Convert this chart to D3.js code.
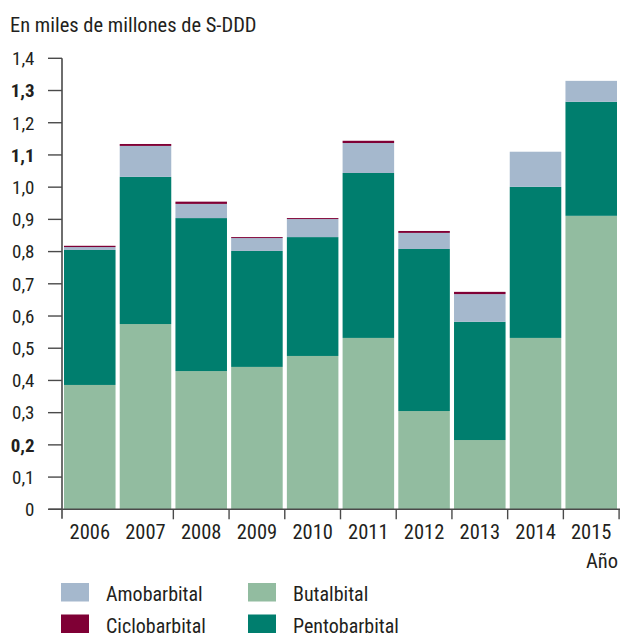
<!DOCTYPE html>
<html><head><meta charset="utf-8">
<script src="https://cdn.jsdelivr.net/npm/d3@7"></script>
<style>
html,body{margin:0;padding:0;background:#fff;}
text{font-family:"Liberation Sans Narrow","Arial Narrow","Roboto Condensed","Liberation Sans",sans-serif;fill:#231f20;}
</style></head>
<body><svg id="chart" width="620" height="637"></svg>
<script>
const years = ["2006","2007","2008","2009","2010","2011","2012","2013","2014","2015"];
const butalbital    = [0.386,0.575,0.429,0.442,0.476,0.532,0.305,0.215,0.532,0.911];
const pentobarbital = [0.419,0.457,0.475,0.360,0.369,0.512,0.503,0.367,0.469,0.354];
const amobarbital   = [0.009,0.096,0.044,0.040,0.056,0.093,0.050,0.086,0.109,0.065];
const ciclobarbital = [0.004,0.006,0.007,0.003,0.003,0.007,0.006,0.007,0.000,0.000];
const seriesNames = ["Butalbital","Pentobarbital","Amobarbital","Ciclobarbital"];
const yTicks = [0,0.1,0.2,0.3,0.4,0.5,0.6,0.7,0.8,0.9,1.0,1.1,1.2,1.3,1.4];
const boldTicks = [0.2,1.1,1.3];
const legendOrder = ["Amobarbital","Butalbital","Ciclobarbital","Pentobarbital"];
const titleText = "En miles de millones de S-DDD";
const xTitle = "Año";

const colors = {Amobarbital:"#a5b8cd", Butalbital:"#92bca0", Ciclobarbital:"#7f0035", Pentobarbital:"#007e6e"};
const seriesData = {Butalbital:butalbital, Pentobarbital:pentobarbital, Amobarbital:amobarbital, Ciclobarbital:ciclobarbital};

const rows = years.map((y,i)=>{const r={year:y}; seriesNames.forEach(s=>r[s]=seriesData[s][i]); return r;});
const stacked = d3.stack().keys(seriesNames)(rows);

const svg = d3.select("#chart");
const x = d3.scaleBand().domain(years).range([64,617]).paddingInner(0.075).paddingOuter(0);
const y = d3.scaleLinear().domain([0,1.4]).range([509.3,58.3]);
const axisColor = "#4a4a4a";
const fmt = v => v===0 ? "0" : d3.format(".1f")(v).replace(".",",");

// bars
svg.append("g").selectAll("g").data(stacked).join("g")
  .attr("fill", d=>colors[d.key])
  .selectAll("rect").data(d=>d).join("rect")
  .attr("x", d=>x(d.data.year))
  .attr("width", x.bandwidth())
  .attr("y", d=>y(d[1]))
  .attr("height", d=>Math.max(0, y(d[0])-y(d[1])));

// y axis
const yAxis = svg.append("g");
yAxis.append("line").attr("x1",62).attr("x2",62).attr("y1",y(1.4)).attr("y2",y(0)+9.5)
  .attr("stroke",axisColor).attr("stroke-width",1.6);
yAxis.selectAll("line.tk").data(yTicks).join("line").attr("class","tk")
  .attr("x1",48).attr("x2",62).attr("y1",d=>y(d)).attr("y2",d=>y(d))
  .attr("stroke",axisColor).attr("stroke-width",1.4);
yAxis.selectAll("text").data(yTicks).join("text")
  .attr("x",34.5).attr("y",d=>y(d)).attr("dy","0.36em")
  .attr("text-anchor","end").attr("font-size",19)
  .attr("font-weight",d=>boldTicks.some(b=>Math.abs(b-d)<1e-9)?"bold":"normal")
  .text(fmt);

// x axis
const xAxis = svg.append("g");
xAxis.append("line").attr("x1",48.5).attr("x2",620).attr("y1",y(0)).attr("y2",y(0))
  .attr("stroke",axisColor).attr("stroke-width",1.6);
const step = x.step(), gap = step - x.bandwidth();
const boundaries = years.slice(1).map(yr=>x(yr)-gap/2).concat([x(years[years.length-1])+x.bandwidth()+gap/2]);
xAxis.selectAll("line.tk").data(boundaries.filter((b,i)=>i!==0)).join("line").attr("class","tk")
  .attr("x1",d=>d).attr("x2",d=>d).attr("y1",y(0)).attr("y2",y(0)+10)
  .attr("stroke",axisColor).attr("stroke-width",1.4);
xAxis.selectAll("text").data(years).join("text")
  .attr("x",d=>x(d)+x.bandwidth()/2).attr("y",539)
  .attr("text-anchor","middle").attr("font-size",20.5)
  .text(d=>d);
svg.append("text").attr("x",618).attr("y",568).attr("text-anchor","end").attr("font-size",20.5).text(xTitle);

// title
svg.append("text").attr("x",10).attr("y",32).attr("font-size",20.5).text(titleText);

// legend
const lg = svg.append("g").selectAll("g").data(legendOrder).join("g")
  .attr("transform",(d,i)=>`translate(${i%2===0?61:248},${i<2?583:614.5})`);
lg.append("rect").attr("width",28).attr("height",18.5).attr("fill",d=>colors[d]);
lg.append("text").attr("x",45).attr("y",18).attr("font-size",20).text(d=>d);
</script></body></html>
